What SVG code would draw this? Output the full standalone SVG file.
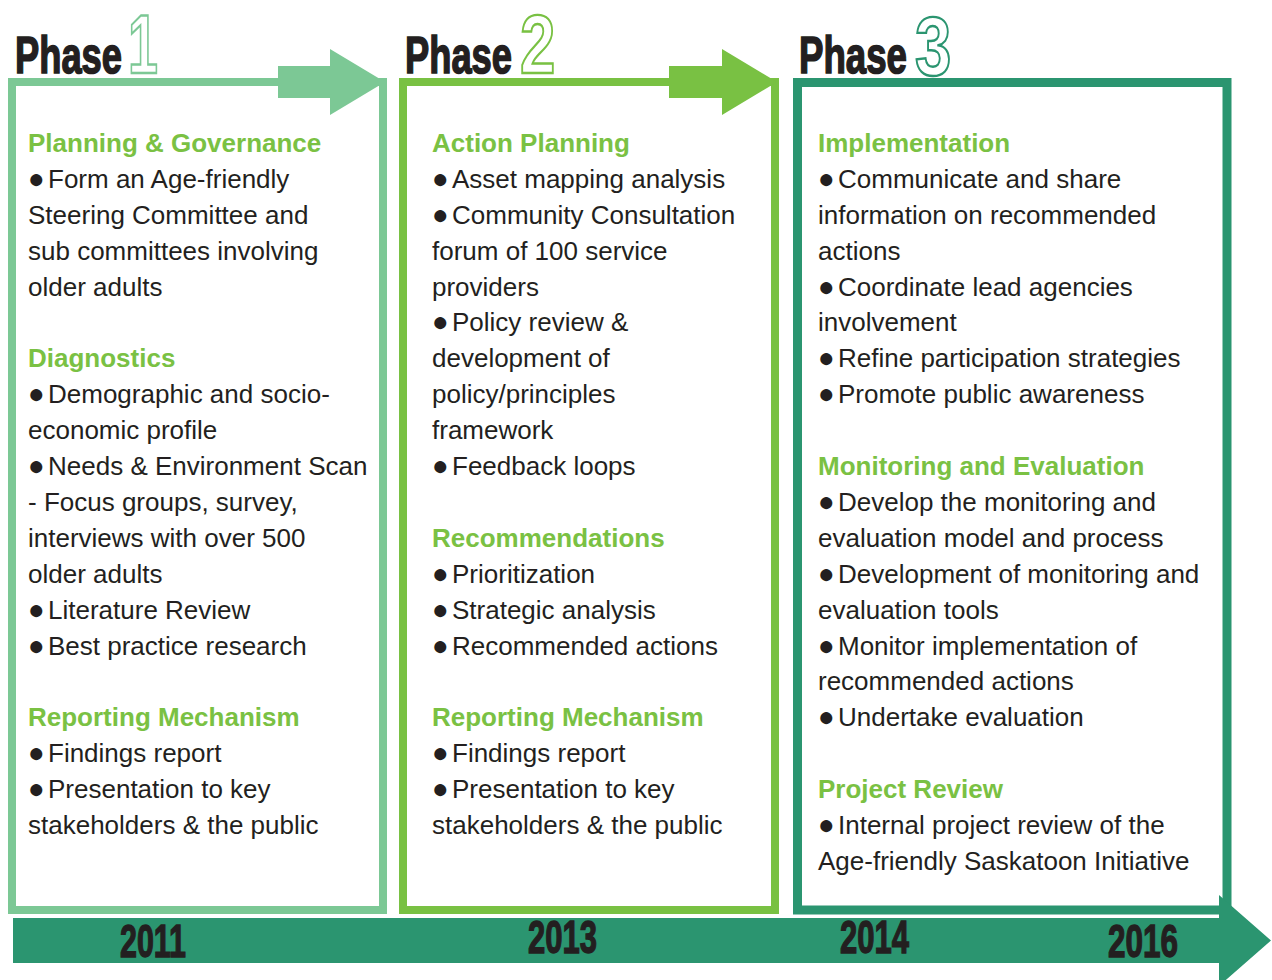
<svg xmlns="http://www.w3.org/2000/svg" width="1272" height="980" viewBox="0 0 1272 980">
<style>
.h{font-family:"Liberation Sans",Arial,sans-serif;font-weight:bold;font-size:26px;fill:#7AC143}
.t{font-family:"Liberation Sans",Arial,sans-serif;font-size:26px;fill:#231F20}
.b{font-size:28px}
.ph{font-family:"Liberation Sans",Arial,sans-serif;font-weight:bold;font-size:52px;fill:#231F20;stroke:#231F20;stroke-width:1.6}
.num{font-family:"Liberation Sans",Arial,sans-serif;font-weight:bold;font-size:84px;fill:#fff;stroke-width:2.4}
.yr{font-family:"Liberation Sans",Arial,sans-serif;font-weight:bold;font-size:47px;fill:#231F20;stroke:#231F20;stroke-width:1.4}
.box{fill:#fff;stroke-width:8}
</style>
<rect width="1272" height="980" fill="#fff"/>

<g id="phase1">
<rect class="box" x="12" y="82" width="371" height="828" stroke="#7CC895"/>
<text class="ph" x="15" y="73" textLength="107" lengthAdjust="spacingAndGlyphs">Phase</text>
<text class="num" x="-3.3" y="73" stroke="#7CC895" transform="translate(130,0) scale(0.64,1)">1</text>
<text class="h" x="28" y="152">Planning &amp; Governance</text>
<text class="t" x="28" y="188"><tspan class="b">●</tspan><tspan x="48">Form an Age-friendly</tspan></text>
<text class="t" x="28" y="224">Steering Committee and</text>
<text class="t" x="28" y="260">sub committees involving</text>
<text class="t" x="28" y="296">older adults</text>
<text class="h" x="28" y="367">Diagnostics</text>
<text class="t" x="28" y="403"><tspan class="b">●</tspan><tspan x="48">Demographic and socio-</tspan></text>
<text class="t" x="28" y="439">economic profile</text>
<text class="t" x="28" y="475"><tspan class="b">●</tspan><tspan x="48">Needs &amp; Environment Scan</tspan></text>
<text class="t" x="28" y="511">- Focus groups, survey,</text>
<text class="t" x="28" y="547">interviews with over 500</text>
<text class="t" x="28" y="583">older adults</text>
<text class="t" x="28" y="619"><tspan class="b">●</tspan><tspan x="48">Literature Review</tspan></text>
<text class="t" x="28" y="655"><tspan class="b">●</tspan><tspan x="48">Best practice research</tspan></text>
<text class="h" x="28" y="726">Reporting Mechanism</text>
<text class="t" x="28" y="762"><tspan class="b">●</tspan><tspan x="48">Findings report</tspan></text>
<text class="t" x="28" y="798"><tspan class="b">●</tspan><tspan x="48">Presentation to key</tspan></text>
<text class="t" x="28" y="834">stakeholders &amp; the public</text>
</g>

<g id="phase2">
<rect class="box" x="403" y="82" width="372" height="828" stroke="#79C143"/>
<text class="ph" x="405" y="73" textLength="107" lengthAdjust="spacingAndGlyphs">Phase</text>
<text class="num" x="-1.3" y="73" stroke="#79C143" transform="translate(521,0) scale(0.757,1)">2</text>
<text class="h" x="432" y="152">Action Planning</text>
<text class="t" x="432" y="188"><tspan class="b">●</tspan><tspan x="452">Asset mapping analysis</tspan></text>
<text class="t" x="432" y="224"><tspan class="b">●</tspan><tspan x="452">Community Consultation</tspan></text>
<text class="t" x="432" y="260">forum of 100 service</text>
<text class="t" x="432" y="296">providers</text>
<text class="t" x="432" y="331"><tspan class="b">●</tspan><tspan x="452">Policy review &amp;</tspan></text>
<text class="t" x="432" y="367">development of</text>
<text class="t" x="432" y="403">policy/principles</text>
<text class="t" x="432" y="439">framework</text>
<text class="t" x="432" y="475"><tspan class="b">●</tspan><tspan x="452">Feedback loops</tspan></text>
<text class="h" x="432" y="547">Recommendations</text>
<text class="t" x="432" y="583"><tspan class="b">●</tspan><tspan x="452">Prioritization</tspan></text>
<text class="t" x="432" y="619"><tspan class="b">●</tspan><tspan x="452">Strategic analysis</tspan></text>
<text class="t" x="432" y="655"><tspan class="b">●</tspan><tspan x="452">Recommended actions</tspan></text>
<text class="h" x="432" y="726">Reporting Mechanism</text>
<text class="t" x="432" y="762"><tspan class="b">●</tspan><tspan x="452">Findings report</tspan></text>
<text class="t" x="432" y="798"><tspan class="b">●</tspan><tspan x="452">Presentation to key</tspan></text>
<text class="t" x="432" y="834">stakeholders &amp; the public</text>
</g>

<g id="phase3">
<rect x="797.5" y="82.5" width="429.5" height="827.5" fill="#fff" stroke="#2B9570" stroke-width="9"/>
<text class="ph" x="799" y="73" textLength="108" lengthAdjust="spacingAndGlyphs">Phase</text>
<text class="num" x="-1.25" y="75" stroke="#2B9570" transform="translate(916,0) scale(0.777,1)">3</text>
<text class="h" x="818" y="152">Implementation</text>
<text class="t" x="818" y="188"><tspan class="b">●</tspan><tspan x="838">Communicate and share</tspan></text>
<text class="t" x="818" y="224">information on recommended</text>
<text class="t" x="818" y="260">actions</text>
<text class="t" x="818" y="296"><tspan class="b">●</tspan><tspan x="838">Coordinate lead agencies</tspan></text>
<text class="t" x="818" y="331">involvement</text>
<text class="t" x="818" y="367"><tspan class="b">●</tspan><tspan x="838">Refine participation strategies</tspan></text>
<text class="t" x="818" y="403"><tspan class="b">●</tspan><tspan x="838">Promote public awareness</tspan></text>
<text class="h" x="818" y="475">Monitoring and Evaluation</text>
<text class="t" x="818" y="511"><tspan class="b">●</tspan><tspan x="838">Develop the monitoring and</tspan></text>
<text class="t" x="818" y="547">evaluation model and process</text>
<text class="t" x="818" y="583"><tspan class="b">●</tspan><tspan x="838">Development of monitoring and</tspan></text>
<text class="t" x="818" y="619">evaluation tools</text>
<text class="t" x="818" y="655"><tspan class="b">●</tspan><tspan x="838">Monitor implementation of</tspan></text>
<text class="t" x="818" y="690">recommended actions</text>
<text class="t" x="818" y="726"><tspan class="b">●</tspan><tspan x="838">Undertake evaluation</tspan></text>
<text class="h" x="818" y="798">Project Review</text>
<text class="t" x="818" y="834"><tspan class="b">●</tspan><tspan x="838">Internal project review of the</tspan></text>
<text class="t" x="818" y="870">Age-friendly Saskatoon Initiative</text>
</g>

<g id="connectors">
<polygon id="arrow1" fill="#7CC895" points="278,66 330,66 330,49 385,82 330,115 330,98 278,98"/>
<polygon id="arrow2" fill="#79C143" points="669,66 722,66 722,49 777,82 722,115 722,98 669,98"/>
<polygon id="timeline" fill="#2B9570" points="13,918 1219,918 1219,895 1271,940.5 1219,986 1219,963 13,963"/>
</g>

<g id="years">
<text class="yr" x="120" y="957" textLength="66" lengthAdjust="spacingAndGlyphs">2011</text>
<text class="yr" x="528" y="953" textLength="69" lengthAdjust="spacingAndGlyphs">2013</text>
<text class="yr" x="840" y="953" textLength="69" lengthAdjust="spacingAndGlyphs">2014</text>
<text class="yr" x="1108" y="957" textLength="70" lengthAdjust="spacingAndGlyphs">2016</text>
</g>
</svg>
